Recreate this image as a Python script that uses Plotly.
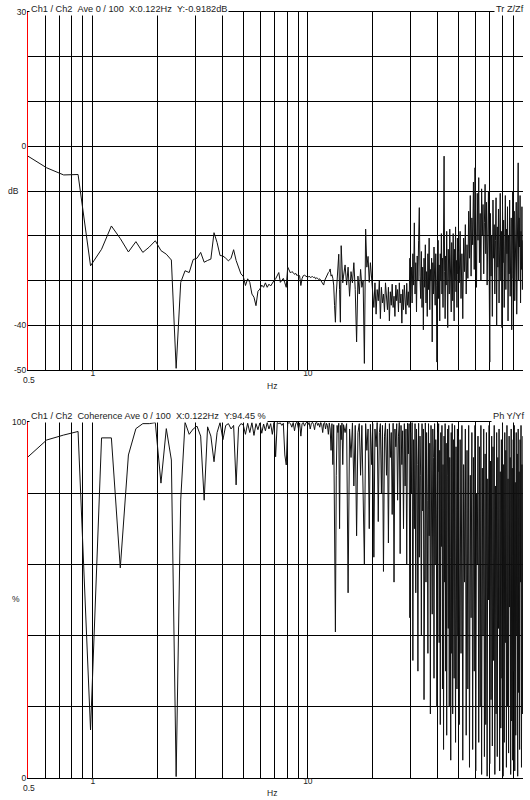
import numpy as np
import plotly.graph_objects as go

DF = 0.12207  # Hz per spectral line

# ---------------- Transfer function magnitude (dB) ----------------
# segment A: lines 4..120 (step 1)
db_a = [
    -1.9, -4.8, -6.4, -6.3, -26.7, -23.0, -17.8, -20.6, -23.6, -21.3,
    -23.7, -22.5, -21.1, -23.3, -24.1, -25.4, -49.6, -30.4, -27.8, -28.2,
    -25.3, -25.0, -23.7, -25.9, -25.5, -25.2, -19.3, -21.5, -24.4, -24.5,
    -25.0, -25.6, -25.0, -23.1, -25.5, -27.0, -28.5, -29.0, -31.1, -29.6,
    -30.4, -33.0, -33.7, -35.6, -32.4, -31.9,
    -31.0, -31.5, -30.5, -31.5, -30.8, -31.2, -30.5, -30.0, -29.6, -29.0,
    -28.2, -30.4, -29.8, -29.5, -30.5, -31.5, -27.0, -27.8, -28.3, -28.0,
    -28.2, -28.6, -28.4, -28.9, -28.6, -29.0, -31.1, -29.5, -28.9, -28.8,
    -29.0, -29.2, -29.3, -29.0, -29.3, -29.2, -29.1, -29.3, -29.2, -29.6,
    -29.4, -29.5, -29.8, -29.6, -30.0, -30.3, -30.8, -31.0, -30.0, -29.5,
    -29.0, -28.8, -28.2, -28.0, -27.4, -29.0, -28.7,
    -29.5, -31.0, -35.6, -39.3, -33.0, -30.0, -27.0, -24.1, -32.0, -39.3,
    -22.2, -27.5, -30.5, -29.0,
]
# segment B: lines 122..410 (step 2)
db_b = [
    -26.5, -31.0, -27.0, -33.5, -28.0, -30.5, -26.0, -32.0, -43.7, -29.0,
    -33.0, -27.5, -31.5, -30.0,
    -48.5, -18.5,
    -27.0, -24.6, -30.4, -26.0, -29.5,
    -31.0, -36.0, -30.5, -37.5, -32.0, -34.5, -30.0, -38.5, -31.5, -35.0,
    -33.0, -37.0, -30.5, -34.0, -36.5, -31.5, -39.0, -32.5, -35.5, -30.8,
    -36.0, -33.5, -38.0, -31.0, -34.5, -32.0, -37.0, -30.5, -35.0, -33.0,
    -39.5, -32.0, -36.5, -31.0, -34.0, -37.5, -30.6, -35.5, -32.5, -36.0,
    -25.0, -33.5, -27.0, -35.0, -24.0, -31.0, -17.1, -33.0, -26.0, -37.0,
    -24.5, -30.0, -21.0, -13.7, -29.0, -34.0, -23.5, -36.0, -27.0, -41.0,
    -25.0, -31.5, -22.0, -35.0, -28.0, -38.0, -24.0, -32.0, -20.5, -36.5,
    -27.5, -30.0, -25.0, -43.7, -26.0, -33.0, -22.5, -29.5, -35.5, -24.0,
    -31.0, -48.2, -27.0, -21.0, -34.0, -26.5, -39.0,
    -24.0, -30.0, -19.5, -33.0, -25.0, -36.0, -22.0, -2.2, -28.0, -38.5,
    -24.5, -31.0, -19.0, -29.5, -40.5, -23.0, -27.5, -33.0, -18.5, -30.5,
    -25.0, -37.0, -21.5, -28.0, -34.5, -19.5, -26.5, -39.0, -23.0, -30.0,
    -18.0, -32.5, -25.5, -36.0, -20.5, -28.5, -23.5,
]
# segment C: lines 414..818 (step 4)
db_c = [
    -30.5, -19.0, -34.0, -24.0, -38.5, -20.5, -28.0, -17.5, -33.0, -22.0,
    -29.5, -14.5,
    -25.0, -11.0, -29.0, -16.0, -22.0, -8.0, -27.5, -4.8, -18.0, -31.5,
    -10.5, -21.0, -7.0, -26.0, -15.0, -30.0, -9.5, -20.0, -13.0, -28.5,
    -17.0, -8.5, -24.0, -12.5, -31.0, -19.0, -10.0, -26.5,
    -48.2,
    -15.0, -29.0, -20.0, -38.0, -12.0, -25.0, -17.5, -33.0, -21.0, -11.5,
    -40.0, -18.0, -27.0, -14.0, -35.0, -22.0, -10.5, -30.0, -19.0, -40.5,
    -13.0, -26.0, -16.5, -36.0, -21.5, -11.0, -32.0, -18.5, -24.0, -13.5,
    -39.0, -20.0, -28.5, -12.0, -33.5, -22.5, -16.0, -41.0, -19.5, -10.0,
    -29.5, -23.0, -14.5, -34.5, -20.5, -27.0, -12.5, -37.5, -18.0, -25.0,
    -3.7, -30.0, -16.0, -22.5, -11.0, -35.0, -19.0, -27.5, -13.5, -32.0,
    -21.0,
]

# ---------------- Coherence (%) ----------------
coh_a = [
    89.6, 94.9, 96.3, 97.3, 13.5, 95.5, 95.5, 59.0, 90.7, 98.1,
    99.5, 99.5, 99.8, 82.8, 98.1, 89.3, 0.4, 78.1, 99.9, 96.5,
    98.0, 98.8, 96.0, 78.0, 98.6, 96.0, 88.8, 97.0, 99.8, 95.0,
    99.0, 99.5, 98.0, 99.0, 82.3, 98.5, 99.5, 99.2, 96.5, 99.6,
    97.0, 99.8, 96.2, 99.5, 97.8, 99.7, 96.8, 99.4, 97.5, 99.8,
    98.0, 99.5, 96.5, 99.8, 90.2, 99.8, 99.5, 99.7, 99.0, 99.6,
    90.7, 87.9, 99.5, 99.8,
    99.5, 98.5, 99.8, 97.5, 99.6, 99.9, 98.2, 99.7, 96.0, 99.5,
    99.8, 98.8, 99.6, 99.9, 99.2, 99.8, 98.0, 99.5, 99.9, 99.3,
    97.8, 99.7, 99.9, 99.0, 99.6, 98.5, 99.8, 99.2, 97.0, 99.5,
    99.8, 98.0, 99.6,
    99.0, 96.5, 99.7, 98.0, 92.0, 99.5, 88.0, 99.2, 60.0, 41.0,
    85.0, 99.0, 97.0, 99.6, 70.0, 99.0, 95.0, 99.7, 88.0, 99.2,
]
coh_b = [
    97, 99.5, 52, 98, 90, 99.7, 82, 99, 68, 97,
    99.5, 85, 99, 75, 60, 99.5, 92, 98, 70, 99.3,
    88, 99.5, 62, 98, 93, 99.8, 72, 97, 99.5, 80,
    99, 58, 96, 99.7, 85, 98, 66, 99.5, 90, 97,
    74, 99.6, 55, 98, 93, 99.5, 78, 96, 99.8, 63,
    99, 88, 97.5, 70, 99.5, 82, 98, 60, 99.6, 91,
    99.5, 45, 97, 80, 99.8, 33, 95, 70, 99.5, 52,
    98, 88, 30, 99.6, 62, 96, 85, 40, 99.5, 75,
    98, 22, 93, 99.7, 55, 97, 78, 35, 99.5, 68,
    94, 18, 99, 82, 46, 98, 90, 28, 99.5, 60,
    95, 73, 20, 97, 86,
    99.5, 38, 92, 15, 97, 65, 99, 25, 88, 8,
    96, 55, 99.5, 30, 94, 12, 85, 98, 42, 99,
    20, 90, 62, 5, 97, 35, 99.5, 18, 80, 95,
    28, 99, 50, 10, 93, 70, 25, 98, 40, 96,
]
coh_c = [
    15, 95, 35, 99, 5, 88, 55, 98, 12, 92,
    25, 99, 3, 85, 45, 97, 8, 90, 30, 99,
    2, 80, 60, 96, 10, 93, 20, 99, 1, 87,
    40, 98, 6, 91, 15, 97, 0.5, 84, 50, 99,
    4, 89, 22, 96, 9, 93, 33, 99, 1, 82,
    18, 97, 6, 90, 42, 98, 2, 86, 14, 95,
    28, 99, 0.5, 88, 10, 97, 38, 92, 3, 99,
    20, 84, 7, 96, 48, 90, 1, 98, 16, 87,
    5, 95, 30, 99, 2, 83, 12, 97, 40, 91,
    0.5, 98, 24, 86, 8, 95, 55, 99, 3, 88,
    18, 96,
]

SEGMENTS = [(4, 1), (122, 2), (414, 4)]


def freqs(start, step, n):
    return [(start + step * i) * DF for i in range(n)]


def series(parts):
    xs, ys = [], []
    for (start, step), vals in zip(SEGMENTS, parts):
        xs += freqs(start, step, len(vals))
        ys += vals
    return xs, ys


x_db, y_db = series([db_a, db_b, db_c])
x_coh, y_coh = series([coh_a, coh_b, coh_c])

# axis ticks
x_grid = [0.6, 0.7, 0.8, 0.9, 1, 2, 3, 4, 5, 6, 7, 8, 9, 10,
          20, 30, 40, 50, 60, 70, 80, 90, 100]
x_text = ["1" if v == 1 else "10" if v == 10 else "100" if v == 100 else "" for v in x_grid]
db_grid = [-50, -40, -30, -20, -10, 0, 10, 20, 30]
db_text = ["-50", "-40", "", "", "", "0", "", "", "30"]
coh_grid = [0, 20, 40, 60, 80, 100]
coh_text = ["0", "", "", "", "", "100"]

FONT = "Liberation Sans, Arial, sans-serif"
TXT = "#222222"
LINE = "#111111"

fig = go.Figure()
fig.add_trace(go.Scatter(x=x_db, y=y_db, mode="lines",
                         line=dict(color=LINE, width=1), xaxis="x", yaxis="y",
                         showlegend=False, hoverinfo="skip"))
fig.add_trace(go.Scatter(x=x_coh, y=y_coh, mode="lines",
                         line=dict(color=LINE, width=1), xaxis="x2", yaxis="y2",
                         showlegend=False, hoverinfo="skip"))

W, H = 530, 800
ML, MR, MT, MB = 28, 7, 8, 22
PH = H - MT - MB
top_dom = [1 - 360 / PH, 1]
bot_dom = [0, 358 / PH]

xcommon = dict(type="log", range=[np.log10(0.5), 2], tickvals=x_grid, ticktext=x_text,
               showgrid=True, gridcolor="black", gridwidth=1,
               showline=True, linecolor="black", linewidth=1, mirror=True,
               ticks="", zeroline=False, ticklabelstandoff=-5,
               tickfont=dict(family=FONT, size=8.5, color=TXT))
ycommon = dict(showgrid=True, gridcolor="black", gridwidth=1,
               showline=True, linecolor="red", linewidth=1, mirror=False,
               ticks="", zeroline=False, ticklabelstandoff=-1,
               tickfont=dict(family=FONT, size=8.5, color=TXT))

fig.update_layout(
    width=W, height=H,
    margin=dict(l=ML, r=MR, t=MT, b=MB),
    paper_bgcolor="white", plot_bgcolor="white",
    xaxis=dict(**xcommon, domain=[0, 1], anchor="y"),
    yaxis=dict(**ycommon, domain=top_dom, range=[-50, 30],
               tickvals=db_grid, ticktext=db_text, anchor="x"),
    xaxis2=dict(**xcommon, domain=[0, 1], anchor="y2"),
    yaxis2=dict(**ycommon, domain=bot_dom, range=[0, 100],
                tickvals=coh_grid, ticktext=coh_text, anchor="x2"),
    showlegend=False,
)


def py(pix):
    return 1 - (pix - MT) / PH


def px(pix):
    return (pix - ML) / (W - ML - MR)


ann = []
nb = "\u00a0"
title1 = f"Ch1 / Ch2{nb}{nb}Ave 0 / 100{nb}{nb}X:0.122Hz{nb}{nb}Y:-0.9182dB"
title2 = f"Ch1 / Ch2{nb}{nb}Coherence Ave 0 / 100{nb}{nb}X:0.122Hz{nb}{nb}Y:94.45 %"
tf = dict(family=FONT, size=9.2, color=TXT)
sf = dict(family=FONT, size=8.5, color=TXT)
ann.append(dict(text=title1, x=px(29), y=py(4.5), xref="paper", yref="paper",
                xanchor="left", yanchor="middle", showarrow=False, font=tf,
                bgcolor="white", borderpad=1))
ann.append(dict(text="Tr Z/Zf", x=px(526), y=py(4.5), xref="paper", yref="paper",
                xanchor="right", yanchor="middle", showarrow=False, font=tf,
                bgcolor="white", borderpad=1))
ann.append(dict(text=title2, x=px(29), y=py(414), xref="paper", yref="paper",
                xanchor="left", yanchor="middle", showarrow=False, font=tf,
                bgcolor="white", borderpad=1))
ann.append(dict(text="Ph Y/Yf", x=px(526), y=py(414), xref="paper", yref="paper",
                xanchor="right", yanchor="middle", showarrow=False, font=tf,
                bgcolor="white", borderpad=1))
# axis unit labels
ann.append(dict(text="dB", x=px(13), y=py(188), xref="paper", yref="paper",
                xanchor="center", yanchor="middle", showarrow=False, font=sf))
ann.append(dict(text="%", x=px(16), y=py(598), xref="paper", yref="paper",
                xanchor="center", yanchor="middle", showarrow=False, font=sf))
ann.append(dict(text="Hz", x=px(272), y=py(384), xref="paper", yref="paper",
                xanchor="center", yanchor="middle", showarrow=False, font=sf))
ann.append(dict(text="Hz", x=px(272), y=py(793), xref="paper", yref="paper",
                xanchor="center", yanchor="middle", showarrow=False, font=sf))
ann.append(dict(text="0.5", x=px(29), y=py(378), xref="paper", yref="paper",
                xanchor="center", yanchor="middle", showarrow=False, font=sf))
ann.append(dict(text="0.5", x=px(29), y=py(788), xref="paper", yref="paper",
                xanchor="center", yanchor="middle", showarrow=False, font=sf))
fig.update_layout(annotations=ann)

fig.write_html("out.html")
